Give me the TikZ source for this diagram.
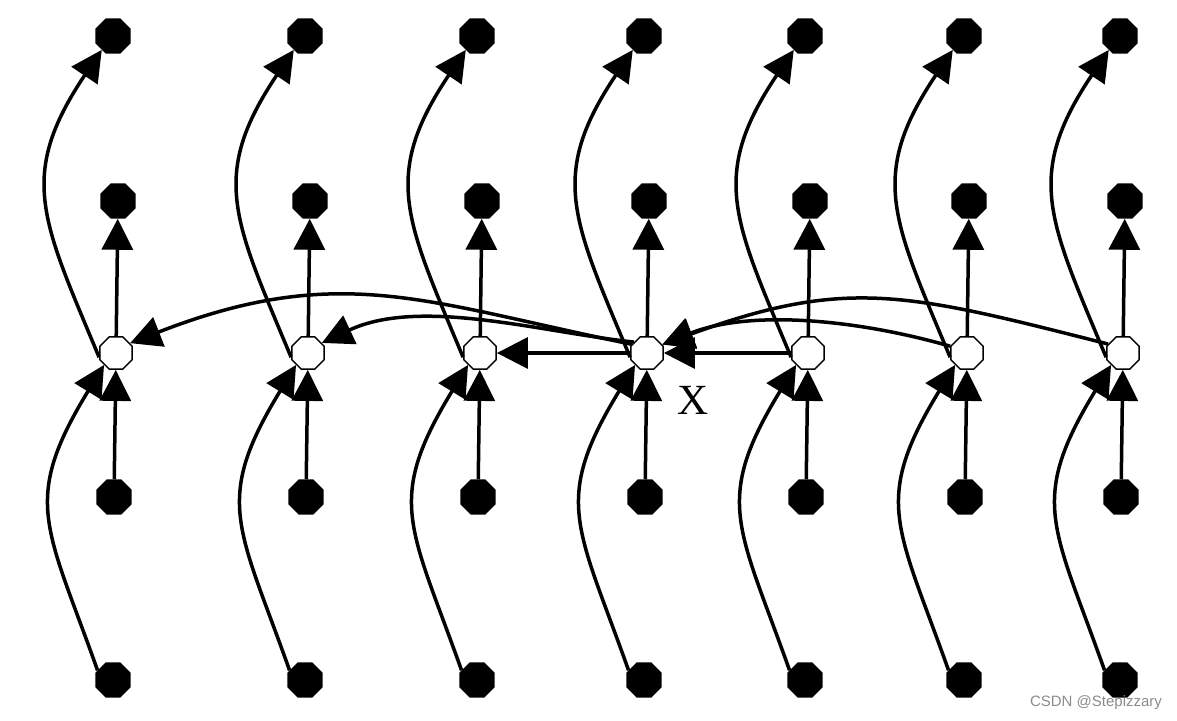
\documentclass[tikz,border=0pt]{standalone}
\usepackage{fontspec}
\newfontfamily\xserif{Liberation Serif}
\newfontfamily\xsans{Liberation Sans}
\usetikzlibrary{arrows.meta,shapes.geometric,calc}
\begin{document}
\begin{tikzpicture}[x=1pt,y=-1pt,
  wnode/.style={regular polygon,regular polygon sides=8,minimum size=35pt,inner sep=0pt,draw=black,fill=white,line width=1.5pt},
  bnode/.style={regular polygon,regular polygon sides=8,minimum size=38pt,inner sep=0pt,fill=black},
  arr/.style={-{Triangle[length=31pt,width=31pt]},line width=3.5pt,line join=round}]
\useasboundingbox (0,0) rectangle (1177,720);
\foreach \i/\W in {1/116,2/308,3/480,4/647,5/808,6/967,7/1123} {
  \node[wnode] (w\i) at (\W,353) {};
  \node[bnode] (t\i) at (\W-3,36) {};
  \node[bnode] (s\i) at (\W+2,201) {};
  \node[bnode] (b\i) at (\W-2,497) {};
  \node[bnode] (d\i) at (\W-3,680) {};
}
\foreach \i in {1,...,7} {
  \draw[arr] (b\i) -- (w\i);
  \draw[arr] (w\i) -- (s\i);
  \draw[arr] (w\i.194) .. controls ($(w\i)+(-74,-133)$) and ($(t\i)+(-96,140)$) .. (t\i.231);
  \draw[arr] (d\i.148) .. controls ($(d\i)+(-67,-155)$) and ($(w\i)+(-95,148)$) .. (w\i.225);
}
\draw[arr] (w4.150) .. controls ($(w4)+(-220,-50)$) and ($(w1)+(225,-92)$) .. (w1.35);
\draw[arr] (w4.140) .. controls ($(w4)+(-107,-21)$) and ($(w2)+(112,-56)$) .. (w2.36);
\draw[arr] (w4) -- (w3);
\draw[arr] (w5) -- (w4);
\draw[arr] (w6.158) .. controls ($(w6)+(-108,-33)$) and ($(w4)+(104,-44)$) .. (w4.29);
\draw[arr] (w7.149) .. controls ($(w7)+(-216,-60)$) and ($(w4)+(200,-76)$) .. (w4.29);
\node[font=\xserif\fontsize{43}{43}\selectfont,inner sep=0pt] (xl) at (693,400) {X};
\node[font=\xsans\fontsize{15}{15}\selectfont,text=black!45,inner sep=0pt] (wm) at (1096,703) {CSDN @Stepizzary};
\end{tikzpicture}
\end{document}
